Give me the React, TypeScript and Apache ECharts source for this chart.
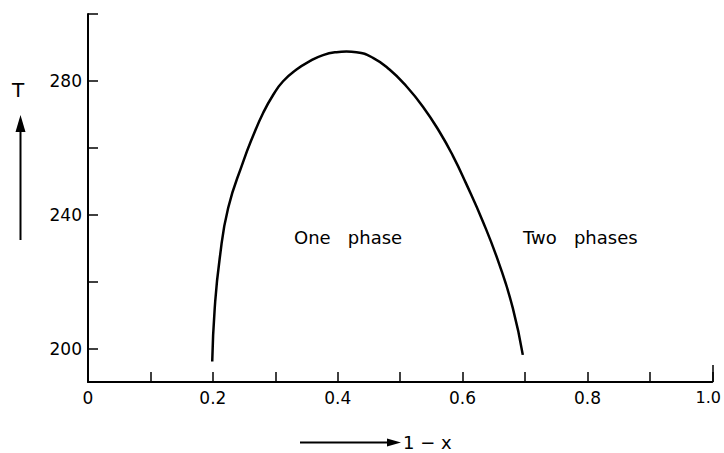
import React, { useEffect, useRef } from "react";
import * as echarts from "echarts";

// Phase boundary T(1 - x)
const compositions = [
  0.199, 0.203, 0.211, 0.2245, 0.2485, 0.2645, 0.2805, 0.2965, 0.3125, 0.334,
  0.3552, 0.3765, 0.398, 0.414, 0.43, 0.4565, 0.483, 0.51, 0.5365, 0.563,
  0.5845, 0.605, 0.6325, 0.659, 0.6805, 0.6965,
];
const temperatures = [
  196.1, 212.1, 227.0, 242.0, 255.8, 263.6, 270.4, 275.8, 279.9, 283.4,
  285.9, 287.7, 288.6, 288.8, 288.6, 286.9, 283.4, 278.4, 272.3, 264.8,
  257.6, 249.6, 238.0, 225.1, 212.1, 198.1,
];

const yTickValues = [200, 220, 240, 260, 280, 300];
const yLabelValues = [200, 240, 280];
const xLabelValues = [0, 0.2, 0.4, 0.6, 0.8, 1.0];

const FONT = "DejaVu Sans";

export default function App() {
  const ref = useRef<HTMLDivElement>(null);

  useEffect(() => {
    document.body.style.margin = "0";
    if (!ref.current) return;
    const chart = echarts.init(ref.current, null, { renderer: "svg" });
    const curve = compositions.map((x, i) => [x, temperatures[i]]);

    chart.setOption({
      animation: false,
      backgroundColor: "#ffffff",
      grid: { left: 88, right: 11, top: 14, bottom: 71, containLabel: false },
      xAxis: {
        type: "value",
        min: 0,
        max: 1,
        interval: 0.1,
        axisLine: { show: true, lineStyle: { color: "#000", width: 2 } },
        axisTick: {
          show: true,
          inside: true,
          length: 10,
          lineStyle: { color: "#000", width: 1.5 },
        },
        axisLabel: {
          customValues: xLabelValues,
          margin: 7,
          color: "#000",
          fontFamily: FONT,
          fontSize: 17,
          formatter: (v: number) =>
            v === 0 ? "0" : v >= 1 ? "{end|1.0}" : v.toFixed(1),
          rich: {
            end: {
              fontFamily: FONT,
              fontSize: 16,
              color: "#000",
              padding: [0, 8, 0, 0],
            },
          },
        },
        splitLine: { show: false },
      },
      yAxis: {
        type: "value",
        min: 190,
        max: 300,
        axisLine: { show: true, lineStyle: { color: "#000", width: 2 } },
        axisTick: {
          show: true,
          inside: true,
          length: 10,
          customValues: yTickValues,
          lineStyle: { color: "#000", width: 1.5 },
        },
        axisLabel: {
          customValues: yLabelValues,
          margin: 6,
          color: "#000",
          fontFamily: FONT,
          fontSize: 17,
        },
        splitLine: { show: false },
      },
      series: [
        {
          type: "line",
          data: curve,
          smooth: 0.5,
          showSymbol: false,
          lineStyle: { color: "#000", width: 2.5 },
        },
      ],
      graphic: [
        // Right-hand end tick of the composition axis
        {
          type: "line",
          shape: { x1: 713, y1: 382, x2: 713, y2: 365 },
          style: { stroke: "#000", lineWidth: 1.5 },
        },
        // Temperature axis title with upward arrow
        {
          type: "text",
          x: 18,
          y: 90,
          style: {
            text: "T",
            fill: "#000",
            font: `20px "${FONT}"`,
            align: "center",
            verticalAlign: "middle",
          },
        },
        {
          type: "line",
          shape: { x1: 20.5, y1: 240, x2: 20.5, y2: 128 },
          style: { stroke: "#000", lineWidth: 2 },
        },
        {
          type: "polygon",
          shape: { points: [[20.5, 115], [15.5, 132], [25.5, 132]] },
          style: { fill: "#000" },
        },
        // Composition axis title with rightward arrow
        {
          type: "line",
          shape: { x1: 300, y1: 442.5, x2: 390, y2: 442.5 },
          style: { stroke: "#000", lineWidth: 2 },
        },
        {
          type: "polygon",
          shape: { points: [[401, 442.5], [387, 438.5], [387, 446.5]] },
          style: { fill: "#000" },
        },
        {
          type: "text",
          x: 403,
          y: 442,
          style: {
            text: "1 − x",
            fill: "#000",
            font: `18px "${FONT}"`,
            align: "left",
            verticalAlign: "middle",
          },
        },
        // Region labels
        {
          type: "text",
          x: 294,
          y: 237,
          style: {
            text: "One   phase",
            fill: "#000",
            font: `18px "${FONT}"`,
            align: "left",
            verticalAlign: "middle",
          },
        },
        {
          type: "text",
          x: 523,
          y: 237,
          style: {
            text: "Two   phases",
            fill: "#000",
            font: `18px "${FONT}"`,
            align: "left",
            verticalAlign: "middle",
          },
        },
      ],
    });

    return () => chart.dispose();
  }, []);

  return <div ref={ref} style={{ width: 724, height: 453 }} />;
}
